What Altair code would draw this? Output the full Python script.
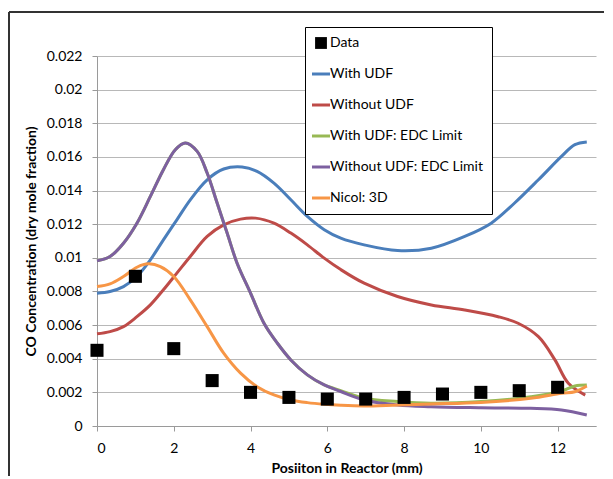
import altair as alt
import pandas as pd

series_names = ["Data", "With UDF", "Without UDF", "With UDF: EDC Limit",
                "Without UDF: EDC Limit", "Nicol: 3D"]
series_colors = ["#000000", "#4A7EBB", "#BE4B48", "#98B954", "#7D60A0", "#F79646"]

data_x = [0, 1, 2, 3, 4, 5, 6, 7, 8, 9, 10, 11, 12]
data_y = [0.0045, 0.0089, 0.0046, 0.0027, 0.0020, 0.0017, 0.0016, 0.0016,
          0.0017, 0.0019, 0.0020, 0.0021, 0.0023]

udf_x = [0, 0.34, 0.69, 1.04, 1.39, 1.73, 2.08, 2.43, 2.87, 3.30, 3.78, 4.17, 4.61,
         5.05, 5.48, 5.92, 6.35, 6.96, 7.83, 8.71, 9.58, 10.27, 10.88, 11.5, 12.1,
         12.45, 12.76]
udf_y = [0.0079, 0.0080, 0.00829, 0.00889, 0.00988, 0.01107, 0.01226, 0.01345,
         0.01464, 0.01528, 0.0154, 0.01514, 0.01444, 0.01345, 0.01246, 0.01167,
         0.01117, 0.01077, 0.01043, 0.01057, 0.01127, 0.01206, 0.01326, 0.01464,
         0.01603, 0.01673, 0.01689]

noudf_x = [0, 0.34, 0.69, 1.04, 1.39, 1.73, 2.08, 2.43, 2.87, 3.30, 3.74, 4.13, 4.61,
           5.05, 5.48, 5.92, 6.35, 6.96, 7.83, 8.71, 9.58, 10.45, 10.97, 11.5, 11.93,
           12.28, 12.72]
noudf_y = [0.00548, 0.00561, 0.00591, 0.0065, 0.0072, 0.0081, 0.00909, 0.01008,
           0.01127, 0.01196, 0.0123, 0.01236, 0.01206, 0.01147, 0.01077, 0.00998,
           0.00930, 0.00849, 0.0077, 0.0072, 0.0069, 0.0065, 0.00611, 0.00531,
           0.00393, 0.00254, 0.00184]

udf_edc_x = [0, 0.34, 0.69, 1.04, 1.39, 1.73, 2.04, 2.30, 2.61, 2.87, 3.13, 3.39, 3.65,
             4.0, 4.35, 4.70, 5.05, 5.48, 5.92, 6.35, 6.96, 7.83, 8.7, 10.0, 11.3,
             12.06, 12.45, 12.76]
udf_edc_y = [0.00982, 0.01008, 0.01087, 0.01206, 0.01365, 0.01524, 0.01643, 0.01683,
             0.01633, 0.01504, 0.01326, 0.01147, 0.00968, 0.0079, 0.00611, 0.00492,
             0.00393, 0.00304, 0.00244, 0.00210, 0.00165, 0.00145, 0.00135, 0.00145,
             0.00174, 0.00204, 0.00238, 0.00244]

noudf_edc_x = [0, 0.34, 0.69, 1.04, 1.39, 1.73, 2.04, 2.30, 2.61, 2.87, 3.13, 3.39, 3.65,
               4.0, 4.35, 4.70, 5.05, 5.48, 5.92, 6.35, 6.96, 7.83, 8.7, 10.0, 11.3,
               12.1, 12.76]
noudf_edc_y = [0.00982, 0.01008, 0.01087, 0.01206, 0.01365, 0.01524, 0.01643, 0.01683,
               0.01633, 0.01504, 0.01326, 0.01147, 0.00968, 0.0079, 0.00611, 0.00492,
               0.00393, 0.00304, 0.00244, 0.00205, 0.00155, 0.00125, 0.00115, 0.00109,
               0.00105, 0.00095, 0.00065]

nicol_x = [0, 0.34, 0.69, 1.04, 1.34, 1.65, 2.0, 2.43, 2.87, 3.30, 3.74, 4.17, 4.61,
           5.05, 5.48, 5.92, 6.35, 6.96, 7.83, 8.71, 10.0, 11.3, 12.1, 12.45, 12.76]
nicol_y = [0.00829, 0.00845, 0.00889, 0.00944, 0.00964, 0.00948, 0.00889, 0.0075,
           0.00591, 0.00433, 0.00314, 0.00234, 0.00185, 0.00155, 0.00139, 0.00129,
           0.00123, 0.00119, 0.00125, 0.00131, 0.00140, 0.00165, 0.00195, 0.00204,
           0.00238]

y_ticks = [0, 0.002, 0.004, 0.006, 0.008, 0.01, 0.012, 0.014, 0.016, 0.018, 0.02, 0.022]
x_ticks = [0, 2, 4, 6, 8, 10, 12]

rows = []
for name, xs, ys in [("With UDF", udf_x, udf_y),
                     ("Without UDF", noudf_x, noudf_y),
                     ("With UDF: EDC Limit", udf_edc_x, udf_edc_y),
                     ("Without UDF: EDC Limit", noudf_edc_x, noudf_edc_y),
                     ("Nicol: 3D", nicol_x, nicol_y)]:
    for xv, yv in zip(xs, ys):
        rows.append({"series": name, "x": xv, "y": yv})
lines_df = pd.DataFrame(rows)
pts_df = pd.DataFrame({"series": "Data", "x": data_x, "y": data_y})

FONT = "Lato"

xenc = alt.X("x:Q", scale=alt.Scale(domain=[0, 13], nice=False),
             axis=alt.Axis(values=x_ticks, grid=False, title="Posiiton in Reactor (mm)",
                           labelFontSize=14, titleFontSize=14, titleFontWeight="bold",
                           tickSize=5, labelPadding=10, titlePadding=6,
                           domainColor="#9a9a9a", tickColor="#9a9a9a",
                           labelColor="#000000", titleColor="#000000"))
yenc = alt.Y("y:Q", scale=alt.Scale(domain=[0, 0.022], nice=False),
             axis=alt.Axis(values=y_ticks, format="~g", grid=True, gridColor="#b8b8b8",
                           title="CO Concentration (dry mole fraction)",
                           labelFontSize=14, titleFontSize=14, titleFontWeight="bold",
                           tickSize=5, labelPadding=10, titlePadding=8,
                           domainColor="#9a9a9a", tickColor="#9a9a9a",
                           labelColor="#000000", titleColor="#000000"))

legend = alt.Legend(
    title=None, orient="none", legendX=208, legendY=-29,
    fillColor="#ffffff", strokeColor="#000000", padding=9,
    labelFontSize=14, labelColor="#000000", labelFont=FONT,
    rowPadding=17, labelOffset=2, symbolOpacity=1,
    symbolType={"expr": "datum.value === 'Data' ? 'square' : 'stroke'"},
    symbolSize={"expr": "datum.value === 'Data' ? 140 : 324"},
    symbolStrokeWidth={"expr": "datum.value === 'Data' ? 0 : 3"},
    symbolFillColor={"expr": "datum.value === 'Data' ? '#000000' : 'transparent'"},
)
color = alt.Color("series:N", scale=alt.Scale(domain=series_names, range=series_colors),
                  legend=legend)

lines_layers = []
for name in ["With UDF", "Without UDF", "With UDF: EDC Limit", "Without UDF: EDC Limit", "Nicol: 3D"]:
    lines_layers.append(
        alt.Chart(lines_df[lines_df.series == name]).mark_line(strokeWidth=3, interpolate="catmull-rom")
        .encode(x=xenc, y=yenc, color=color))

pts = alt.Chart(pts_df).mark_square(size=170, opacity=1, filled=True).encode(
    x=xenc, y=yenc, color=color)

frame_v = alt.Chart(pts_df).mark_rule(color="#333333", strokeWidth=1, clip=False).encode(
    x=alt.value(-88), y=alt.value(-44), y2=alt.value(430))
frame_h = alt.Chart(pts_df).mark_rule(color="#333333", strokeWidth=1, clip=False).encode(
    x=alt.value(-88), x2=alt.value(520), y=alt.value(-44))

chart = alt.layer(frame_v, frame_h, *lines_layers, pts).properties(
    width=499, height=370,
    padding={"left": 89, "top": 48, "right": 8, "bottom": 50},
    autosize=alt.AutoSizeParams(type="none"),
).configure(font=FONT).configure_view(stroke=None).configure_axis(labelFont=FONT, titleFont=FONT)

chart.save("out.html", embed_options={"renderer": "svg", "actions": False})
